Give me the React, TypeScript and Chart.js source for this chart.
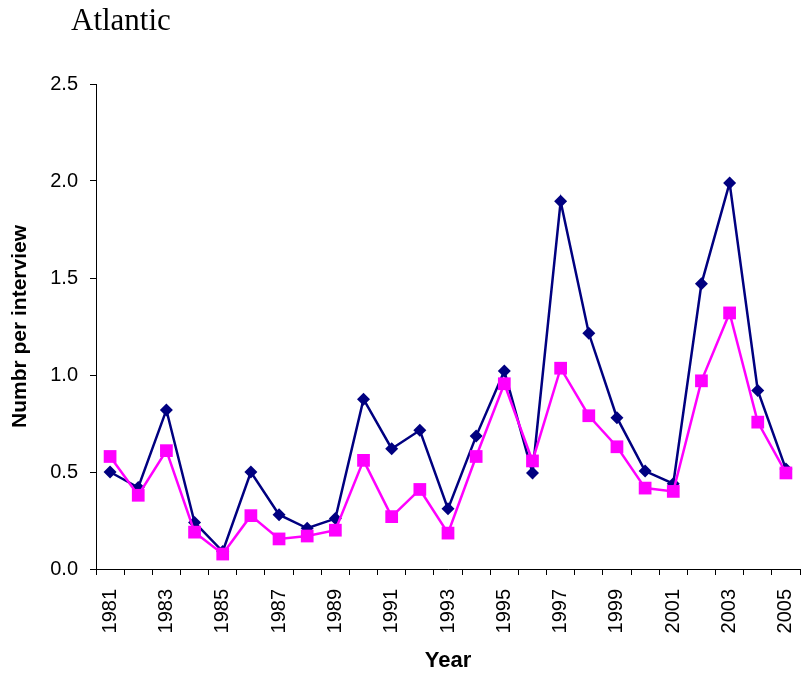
import React, { useEffect, useRef } from "react";
import { Chart, registerables } from "chart.js";

Chart.register(...registerables);

const years = ["1981","1982","1983","1984","1985","1986","1987","1988","1989","1990","1991","1992","1993","1994","1995","1996","1997","1998","1999","2000","2001","2002","2003","2004","2005"];
const seriesA = [0.50,0.42,0.82,0.24,0.09,0.50,0.28,0.21,0.26,0.875,0.62,0.715,0.31,0.685,1.02,0.495,1.895,1.215,0.78,0.505,0.44,1.47,1.99,0.92,0.515];
const seriesB = [0.58,0.38,0.61,0.19,0.077,0.275,0.155,0.17,0.20,0.56,0.27,0.41,0.185,0.58,0.955,0.557,1.035,0.79,0.63,0.417,0.40,0.97,1.32,0.757,0.495];
const yTicks = [0, 0.5, 1.0, 1.5, 2.0, 2.5];

const titleText = "Atlantic";
const yTitle = "Numbr per interview";
const xTitle = "Year";

export default function App() {
  const ref = useRef<HTMLCanvasElement | null>(null);
  useEffect(() => {
    if (!ref.current) return;
    const axisColor = "#000000";
    const chart = new Chart(ref.current, {
      type: "line",
      data: {
        labels: years,
        datasets: [
          {
            label: "Series B",
            data: seriesB,
            borderColor: "#FF00FF",
            backgroundColor: "#FF00FF",
            borderWidth: 2.5,
            pointStyle: "rect",
            pointRadius: 9,
            pointBorderWidth: 0,
            order: 0,
          },
          {
            label: "Series A",
            data: seriesA,
            borderColor: "#000080",
            backgroundColor: "#000080",
            borderWidth: 2.5,
            pointStyle: "rectRot",
            pointRadius: 6.5,
            pointBorderWidth: 0,
            order: 1,
          },
        ],
      },
      options: {
        animation: false,
        responsive: false,
        maintainAspectRatio: false,
        devicePixelRatio: 1,
        layout: { autoPadding: false, padding: { top: 84, right: 1, left: 0, bottom: 0 } },
        plugins: { legend: { display: false }, tooltip: { enabled: false } },
        scales: {
          x: {
            offset: true,
            grid: { display: true, drawOnChartArea: false, offset: true, color: axisColor, tickLength: 6, tickColor: axisColor },
            border: { color: axisColor, width: 1 },
            ticks: {
              minRotation: 90,
              maxRotation: 90,
              autoSkip: false,
              padding: 14,
              color: "#000",
              font: { family: "Liberation Sans, Arial, sans-serif", size: 20 },
              callback: (_v: any, i: number) => (i % 2 === 0 ? years[i] : ""),
            },
            title: {
              display: true,
              text: xTitle,
              color: "#000",
              font: { family: "Liberation Sans, Arial, sans-serif", size: 22, weight: "bold" },
              padding: { top: 0, bottom: 0 },
            },
            afterFit: (s: any) => {
              s.height = 105;
              s.paddingLeft = 0;
              s.paddingRight = 0;
            },
          },
          y: {
            min: 0,
            max: 2.5,
            grid: { display: true, drawOnChartArea: false, color: axisColor, tickLength: 6, tickColor: axisColor },
            border: { color: axisColor, width: 1 },
            afterBuildTicks: (s: any) => { s.ticks = yTicks.map((v) => ({ value: v })); },
            ticks: {
              padding: 12,
              color: "#000",
              font: { family: "Liberation Sans, Arial, sans-serif", size: 20 },
              callback: (v: any) => Number(v).toFixed(1),
            },
            title: {
              display: true,
              text: yTitle,
              color: "#000",
              font: { family: "Liberation Sans, Arial, sans-serif", size: 21, weight: "bold" },
              padding: { top: 8, bottom: 0 },
            },
            afterFit: (s: any) => {
              s.width = 96;
              s.paddingTop = 0;
              s.paddingBottom = 0;
            },
          },
        },
      },
    });
    return () => chart.destroy();
  }, []);

  return (
    <div style={{ position: "absolute", left: 0, top: 0, width: 801, height: 674, background: "#fff" }}>
      <canvas ref={ref} width={801} height={674} style={{ display: "block", width: 801, height: 674 }} />
      <div
        style={{
          position: "absolute",
          left: 71,
          top: 4,
          fontFamily: "'Liberation Serif', 'Times New Roman', serif",
          fontSize: 31,
          lineHeight: 1,
          color: "#000",
          whiteSpace: "nowrap",
        }}
      >
        {titleText}
      </div>
    </div>
  );
}
